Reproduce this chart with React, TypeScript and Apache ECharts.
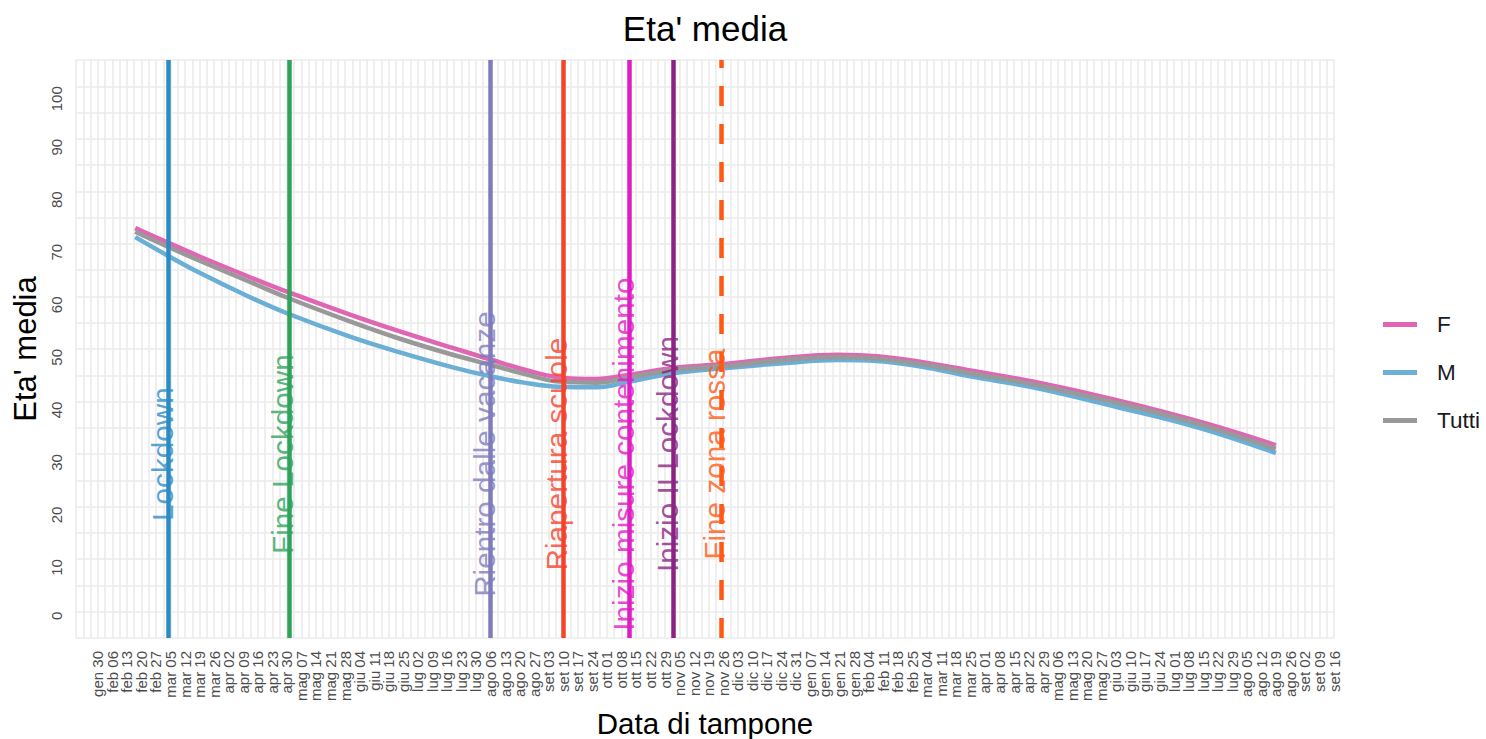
import React, { useEffect, useRef } from "react";
import * as echarts from "echarts";

const ORIGIN = "2020-01-30";

const tickLabels = [
  "gen 30", "feb 06", "feb 13", "feb 20", "feb 27", "mar 05", "mar 12", "mar 19", "mar 26",
  "apr 02", "apr 09", "apr 16", "apr 23", "apr 30", "mag 07", "mag 14", "mag 21", "mag 28",
  "giu 04", "giu 11", "giu 18", "giu 25", "lug 02", "lug 09", "lug 16", "lug 23", "lug 30",
  "ago 06", "ago 13", "ago 20", "ago 27", "set 03", "set 10", "set 17", "set 24", "ott 01",
  "ott 08", "ott 15", "ott 22", "ott 29", "nov 05", "nov 12", "nov 19", "nov 26", "dic 03",
  "dic 10", "dic 17", "dic 24", "dic 31", "gen 07", "gen 14", "gen 21", "gen 28", "feb 04",
  "feb 11", "feb 18", "feb 25", "mar 04", "mar 11", "mar 18", "mar 25", "apr 01", "apr 08",
  "apr 15", "apr 22", "apr 29", "mag 06", "mag 13", "mag 20", "mag 27", "giu 03", "giu 10",
  "giu 17", "giu 24", "lug 01", "lug 08", "lug 15", "lug 22", "lug 29", "ago 05", "ago 12",
  "ago 19", "ago 26", "set 02", "set 09", "set 16",
];

const sampleDates = [
  "2020-02-17", "2020-03-04", "2020-03-19", "2020-04-12", "2020-04-30", "2020-05-30",
  "2020-06-23", "2020-07-18", "2020-08-06", "2020-08-22", "2020-09-08", "2020-09-26",
  "2020-10-12", "2020-11-02", "2020-11-25", "2020-12-25", "2021-01-20", "2021-02-08",
  "2021-03-05", "2021-03-25", "2021-04-24", "2021-06-03", "2021-07-13", "2021-08-19",
];
const valuesF = [
  73.0, 70.2, 67.6, 63.7, 60.9, 56.6, 53.4, 50.3, 48.0, 46.1, 44.6, 44.3,
  45.1, 46.4, 47.1, 48.3, 48.9, 48.6, 47.3, 45.9, 43.8, 40.3, 36.2, 31.7,
];
const valuesM = [
  71.3, 67.7, 64.5, 59.9, 56.8, 52.4, 49.4, 46.6, 44.8, 43.6, 42.8, 42.7,
  43.8, 45.4, 46.3, 47.3, 47.9, 47.7, 46.4, 44.8, 42.7, 39.0, 35.0, 30.2,
];
const valuesTutti = [
  72.3, 69.4, 66.8, 62.8, 59.8, 55.3, 52.0, 49.0, 47.0, 45.3, 43.8, 43.6,
  44.6, 46.0, 46.7, 47.9, 48.5, 48.2, 46.9, 45.4, 43.3, 39.8, 35.7, 31.0,
];

const eventNames = [
  "Lockdown", "Fine Lockdown", "Rientro dalle vacanze", "Riapertura scuole",
  "Inizio misure contenimento", "Inizio II Lockdown", "Fine zona rossa",
];
const eventDates = [
  "2020-03-04", "2020-05-01", "2020-08-06", "2020-09-10", "2020-10-12", "2020-11-02", "2020-11-25",
];
const eventColors = ["#2b8cc4", "#2fa35a", "#7f7bbd", "#f4432b", "#e01cc4", "#8a2383", "#ff5a14"];
const eventDashed = [false, false, false, false, false, false, true];
const eventLabelY = 30;

const seriesNames = ["F", "M", "Tutti"];
const seriesColors = ["#e066b3", "#6baed6", "#999999"];

const FONT = "'Liberation Sans', Arial, sans-serif";

function dayOf(s: string): number {
  const [y, m, d] = s.split("-").map(Number);
  const [y0, m0, d0] = ORIGIN.split("-").map(Number);
  return Math.round((Date.UTC(y, m - 1, d) - Date.UTC(y0, m0 - 1, d0)) / 86400000);
}

export default function App() {
  const ref = useRef<HTMLDivElement>(null);

  useEffect(() => {
    if (!ref.current) return;
    const chart = echarts.init(ref.current, undefined, { renderer: "svg" });
    const days = sampleDates.map(dayOf);
    const allValues = [valuesF, valuesM, valuesTutti];

    const lineSeries = seriesNames.map((name, i) => ({
      name,
      type: "line",
      data: days.map((d, j) => [d, allValues[i][j]]),
      smooth: 0.4,
      showSymbol: false,
      symbol: "none",
      itemStyle: { color: seriesColors[i] },
      lineStyle: { color: seriesColors[i], width: 4.5 },
      z: 2,
    }));

    const option: any = {
      animation: false,
      backgroundColor: "#ffffff",
      textStyle: { fontFamily: FONT },
      title: {
        text: "Eta' media",
        left: 700,
        top: 6,
        textAlign: "center",
        textStyle: { fontFamily: FONT, fontSize: 35, fontWeight: "normal", color: "#000000" },
      },
      legend: {
        data: seriesNames,
        orient: "vertical",
        left: 1378,
        top: 308,
        icon: "rect",
        itemWidth: 34,
        itemHeight: 5,
        itemGap: 25,
        textStyle: {
          fontFamily: FONT,
          fontSize: 22.5,
          lineHeight: 22,
          color: "#1a1a1a",
          padding: [0, 0, 0, 15],
        },
      },
      grid: { left: 76, right: 152, top: 60, bottom: 101, outerBoundsMode: "none" },
      xAxis: {
        type: "value",
        min: -10.5,
        max: 595,
        interval: 3.5,
        name: "Data di tampone",
        nameLocation: "middle",
        nameGap: 68,
        nameTextStyle: { fontFamily: FONT, fontSize: 29.5, color: "#000000" },
        axisLine: { show: false },
        axisTick: { show: false },
        axisLabel: {
          rotate: 90,
          margin: 13,
          fontSize: 15,
          fontFamily: FONT,
          color: "#4d4d4d",
          showMinLabel: true,
          showMaxLabel: true,
          formatter: (v: number) => {
            const k = v / 7;
            const r = Math.round(k);
            if (Math.abs(k - r) < 1e-6 && r >= 0 && r < tickLabels.length) return tickLabels[r];
            return "";
          },
        },
        splitLine: { show: true, lineStyle: { color: "#ebebeb", width: 1.6 } },
      },
      yAxis: {
        type: "value",
        min: -5,
        max: 105,
        interval: 5,
        name: "Eta' media",
        nameLocation: "middle",
        nameGap: 24,
        nameTextStyle: { fontFamily: FONT, fontSize: 31, color: "#000000" },
        axisLine: { show: false },
        axisTick: { show: false },
        axisLabel: {
          rotate: 90,
          align: "right",
          verticalAlign: "bottom",
          margin: 12,
          fontSize: 15,
          fontFamily: FONT,
          color: "#4d4d4d",
          formatter: (v: number) => {
            const r = Math.round(v);
            if (Math.abs(v - r) < 1e-6 && r % 10 === 0 && r >= 0 && r <= 100) return String(r);
            return "";
          },
        },
        splitLine: { show: true, lineStyle: { color: "#ebebeb", width: 1.6 } },
      },
      series: [
        ...lineSeries,
        {
          name: "eventi",
          type: "line",
          data: [],
          z: 5,
          markLine: {
            silent: true,
            symbol: ["none", "none"],
            label: { show: false },
            data: eventDates.map((s, i) => ({
              xAxis: dayOf(s),
              lineStyle: {
                color: eventColors[i],
                width: 4.5,
                type: eventDashed[i] ? [20, 18] : "solid",
                opacity: 1,
              },
            })),
          },
        },
        {
          name: "etichette",
          type: "scatter",
          symbolSize: 0,
          z: 6,
          silent: true,
          itemStyle: { color: "rgba(0,0,0,0)" },
          data: eventDates.map((s, i) => ({
            value: [dayOf(s) - 3, eventLabelY],
            label: { color: eventColors[i] },
          })),
          label: {
            show: true,
            position: "inside",
            rotate: 90,
            fontFamily: FONT,
            fontSize: 29.7,
            textBorderWidth: 0,
            textBorderColor: "transparent",
            formatter: (p: any) => eventNames[p.dataIndex],
          },
        },
      ],
    };

    chart.setOption(option);
    return () => chart.dispose();
  }, []);

  return (
    <div
      ref={ref}
      style={{ position: "fixed", left: 0, top: 0, width: 1486, height: 739, background: "#fff" }}
    />
  );
}
